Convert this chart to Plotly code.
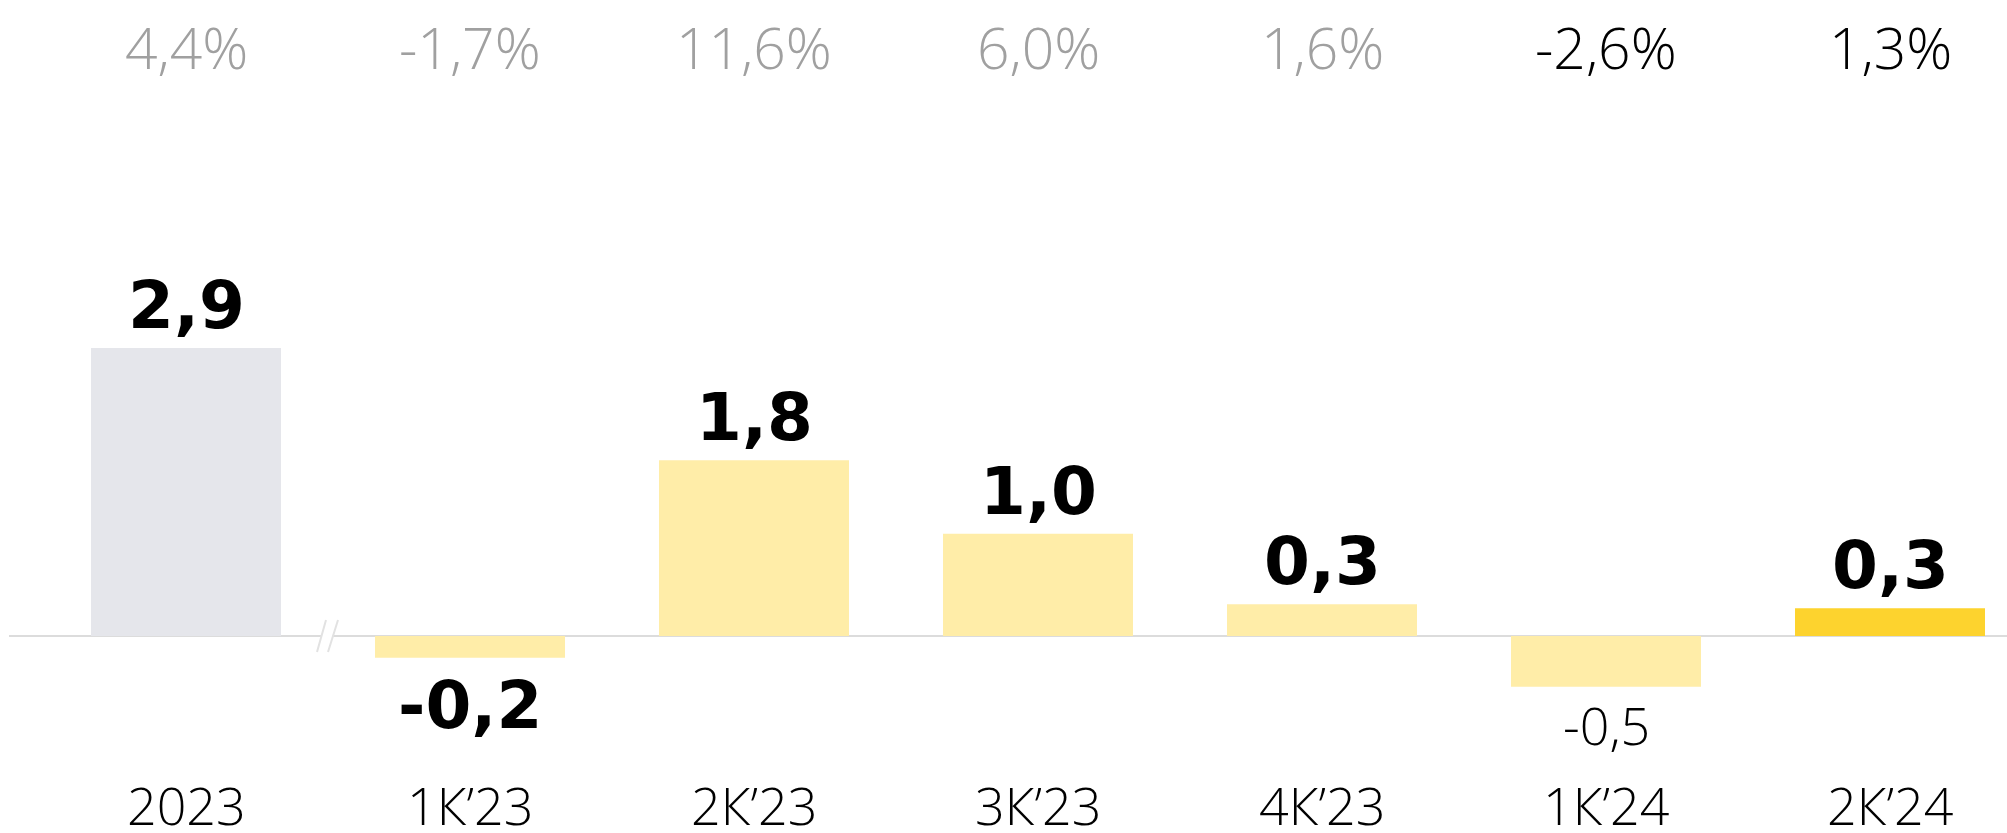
import plotly.graph_objects as go

categories = ["2023", "1К’23", "2К’23", "3К’23", "4К’23", "1К’24", "2К’24"]
values = [2.9, -0.22, 1.77, 1.03, 0.32, -0.51, 0.28]
value_labels = ["2,9", "-0,2", "1,8", "1,0", "0,3", "-0,5", "0,3"]
value_bold = [True, True, True, True, True, False, True]
pct_labels = ["4,4%", "-1,7%", "11,6%", "6,0%", "1,6%", "-2,6%", "1,3%"]
pct_colors = ["#a0a0a0", "#a0a0a0", "#a0a0a0", "#a0a0a0", "#a0a0a0", "#000000", "#000000"]
bar_colors = ["#e5e6eb", "#ffeda8", "#ffeda8", "#ffeda8", "#ffeda8", "#ffeda8", "#fdd32e"]

W, H = 2007, 833
LIGHT = "Open Sans, Roboto, Lato, sans-serif"
BOLD = "DejaVu Sans, Verdana, sans-serif"

fig = go.Figure()
fig.add_trace(go.Bar(
    x=list(range(len(categories))), y=values, width=0.669,
    marker=dict(color=bar_colors, line=dict(width=0)),
    hoverinfo="skip",
))

annotations = []
for i, (v, lab, b) in enumerate(zip(values, value_labels, value_bold)):
    if b:
        font = dict(family=BOLD, size=66, color="#000000", weight="bold")
    else:
        font = dict(family=LIGHT, size=52, color="#000000", weight=300)
    if v >= 0:
        annotations.append(dict(x=i, y=v, xref="x", yref="y", text=lab, showarrow=False,
                                xanchor="center", yanchor="bottom", yshift=2, font=font))
    else:
        annotations.append(dict(x=i, y=v, xref="x", yref="y", text=lab, showarrow=False,
                                xanchor="center", yanchor="top", yshift=-7 if b else 0, font=font))

for i, (p, c) in enumerate(zip(pct_labels, pct_colors)):
    annotations.append(dict(x=i, y=1 - 47 / H, xref="x", yref="paper", text=p, showarrow=False,
                            xanchor="center", yanchor="middle",
                            font=dict(family=LIGHT, size=57, color=c, weight=300)))

for i, c in enumerate(categories):
    annotations.append(dict(x=i, y=1 - 804 / H, xref="x", yref="paper", text=c, showarrow=False,
                            xanchor="center", yanchor="middle",
                            font=dict(family=LIGHT, size=52, color="#000000", weight=300)))

# axis break marks between first and second bar
shapes = [
    dict(type="path", xref="x", yref="y", xsizemode="pixel", ysizemode="pixel",
         xanchor=0.5, yanchor=0, path="M -11 -16 L -2 16 L 10 16 L 0 -16 Z",
         fillcolor="#ffffff", line=dict(width=0), layer="above"),
    dict(type="path", xref="x", yref="y", xsizemode="pixel", ysizemode="pixel",
         xanchor=0.5, yanchor=0, path="M -11 -16 L -2 16 M 0 -16 L 10 16",
         line=dict(color="#e2e2e2", width=2), layer="above"),
]

px_per_x = 284.0
px_per_y = 99.3
ml = 9
x0 = -(186 - ml) / px_per_x
x1 = x0 + (W - ml) / px_per_x
y1 = 636 / px_per_y
y0 = y1 - H / px_per_y

fig.update_layout(
    width=W, height=H,
    margin=dict(l=ml, r=0, t=0, b=0),
    paper_bgcolor="#ffffff", plot_bgcolor="#ffffff",
    showlegend=False,
    xaxis=dict(range=[x0, x1], visible=False, fixedrange=True),
    yaxis=dict(range=[y0, y1], showgrid=False, showticklabels=False, ticks="",
               zeroline=True, zerolinecolor="#dcdcdc", zerolinewidth=2, fixedrange=True),
    annotations=annotations,
    shapes=shapes,
)

fig.write_html("out.html", config={"displayModeBar": False},
               post_script="document.body.style.margin='0';document.body.style.overflow='hidden';")
